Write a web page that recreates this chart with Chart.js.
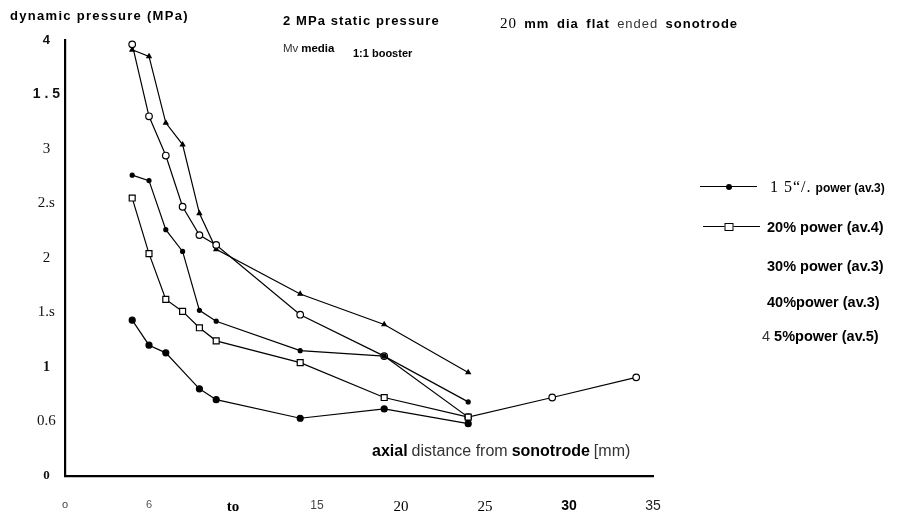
<!DOCTYPE html>
<html>
<head>
<meta charset="utf-8">
<script src="https://cdn.jsdelivr.net/npm/chart.js@4.4.1/dist/chart.umd.min.js"></script>
<style>
html,body{margin:0;padding:0;background:#fff;}
#wrap{position:relative;width:898px;height:517px;overflow:hidden;background:#fff;}
#c{position:absolute;left:0;top:0;}
.t{position:absolute;white-space:nowrap;color:#000;line-height:1;transform:translateY(-50%);}
.sb{font-family:"Liberation Sans","DejaVu Sans",sans-serif;font-weight:bold;}
.sn{font-family:"Liberation Sans","DejaVu Sans",sans-serif;font-weight:normal;color:#333;}
.se{font-family:"Liberation Serif","DejaVu Serif",serif;}
.lg-line{position:absolute;height:0;border-top:1.3px solid #000;}
.lg-dot{position:absolute;width:6px;height:6px;border-radius:50%;background:#000;transform:translate(-50%,-50%);}
.lg-sq{position:absolute;width:7px;height:6px;border:1.2px solid #000;background:#fff;transform:translate(-50%,-50%);}
</style>
</head>
<body>
<div id="wrap">
<canvas id="c" width="898" height="517"></canvas>

<div class="t sb" style="left:10px;top:15px;font-size:13px;letter-spacing:1.3px;">dynamic pressure (MPa)</div>
<div class="t sb" style="left:283px;top:20px;font-size:13px;letter-spacing:1.1px;">2 MPa static pressure</div>
<div class="t" style="left:500px;top:23px;font-size:13px;letter-spacing:1px;word-spacing:3px;"><span class="se" style="font-size:15px;">20</span> <span class="sb">mm dia flat</span> <span class="sn">ended</span> <span class="sb">sonotrode</span></div>
<div class="t" style="left:283px;top:49px;font-size:11.5px;"><span class="sn">Mv</span> <span class="sb">media</span></div>
<div class="t sb" style="left:353px;top:53px;font-size:11px;">1:1 booster</div>
<div class="t" style="left:372px;top:451px;font-size:16px;"><span class="sb">axial</span> <span class="sn">distance from</span> <span class="sb">sonotrode</span> <span class="sn">[mm)</span></div>

<div class="lg-line" style="left:700px;width:57px;top:186px;"></div>
<div class="lg-dot" style="left:729px;top:186.5px;"></div>
<div class="t" style="left:770px;top:187px;"><span class="se" style="font-size:16px;letter-spacing:1px;">1 5“/.</span> <span class="sb" style="font-size:12px;">power (av.3)</span></div>

<div class="lg-line" style="left:703px;width:57px;top:226px;"></div>
<div class="lg-sq" style="left:729px;top:226.5px;"></div>
<div class="t sb" style="left:767px;top:227px;font-size:14.5px;">20% power (av.4)</div>

<div class="t sb" style="left:767px;top:266px;font-size:14.5px;">30% power (av.3)</div>
<div class="t sb" style="left:767px;top:302px;font-size:14.5px;">40%power (av.3)</div>
<div class="t sb" style="left:762px;top:336px;font-size:14.5px;"><span class="sn">4</span> 5%power (av.5)</div>
</div>

<script>
// ---- data ----
const seriesNames = ['1 5“/. power (av.3)', '20% power (av.4)', '30% power (av.3)', '40%power (av.3)', '4 5%power (av.5)'];

const dist15 = [4, 5, 6, 8, 9, 14, 19, 24];
const pres15 = [1.43, 1.20, 1.13, 0.80, 0.70, 0.53, 0.615, 0.48];

const dist20 = [4, 5, 6, 7, 8, 9, 14, 19, 24];
const pres20 = [2.55, 2.04, 1.62, 1.51, 1.36, 1.24, 1.04, 0.72, 0.54];

const dist30 = [4, 5, 6, 7, 8, 9, 14, 19, 24];
const pres30 = [2.76, 2.71, 2.26, 2.06, 1.52, 1.42, 1.15, 1.10, 0.68];

const dist40 = [4, 5, 6, 7, 8, 9, 14, 19, 24, 29, 34];
const pres40 = [3.96, 3.30, 2.94, 2.47, 2.21, 2.12, 1.48, 1.10, 0.54, 0.72, 0.905];

const dist45 = [4, 5, 6, 7, 8, 9, 14, 19, 24];
const pres45 = [3.91, 3.85, 3.24, 3.04, 2.41, 2.08, 1.67, 1.39, 0.95];

const yTickLabels = ['0', '0.6', '1', '1.s', '2', '2.s', '3', '1 . 5', '4'];
const xTickLabels = ['o', '6', 'to', '15', '20', '25', '30', '35'];

// ---- styles ----
const serif = '"Liberation Serif","DejaVu Serif",serif';
const sans = '"Liberation Sans","DejaVu Sans",sans-serif';
const yTickFonts = [
  {family: serif, size: 13, weight: 'bold'},
  {family: serif, size: 15},
  {family: serif, size: 14, weight: 'bold'},
  {family: serif, size: 15},
  {family: serif, size: 15},
  {family: serif, size: 15},
  {family: serif, size: 15},
  {family: sans, size: 14, weight: 'bold'},
  {family: sans, size: 13, weight: 'bold'}
];
const xTickFonts = [
  {family: sans, size: 11},
  {family: sans, size: 11},
  {family: serif, size: 15, weight: 'bold'},
  {family: sans, size: 12},
  {family: serif, size: 15},
  {family: serif, size: 15},
  {family: sans, size: 14, weight: 'bold'},
  {family: sans, size: 14}
];
const xTickColors = ['#444', '#555', '#000', '#444', '#000', '#000', '#000', '#222'];

const pts = (xs, ys) => xs.map((x, i) => ({x: x, y: ys[i]}));

const base = {borderColor: '#000', borderWidth: 1.2, tension: 0, fill: false, pointBorderColor: '#000', pointBorderWidth: 1.2};

new Chart(document.getElementById('c'), {
  type: 'line',
  data: {
    datasets: [
      Object.assign({}, base, {label: seriesNames[0], data: pts(dist15, pres15), pointStyle: 'circle', pointRadius: 3, pointBackgroundColor: '#000'}),
      Object.assign({}, base, {label: seriesNames[1], data: pts(dist20, pres20), pointStyle: 'rect', pointRadius: 4.2, pointBackgroundColor: '#fff'}),
      Object.assign({}, base, {label: seriesNames[2], data: pts(dist30, pres30), pointStyle: 'circle', pointRadius: 2, pointBackgroundColor: '#000'}),
      Object.assign({}, base, {label: seriesNames[3], data: pts(dist40, pres40), pointStyle: 'circle', pointRadius: 3.3, pointBackgroundColor: '#fff'}),
      Object.assign({}, base, {label: seriesNames[4], data: pts(dist45, pres45), pointStyle: 'triangle', pointRadius: 2.5, pointBackgroundColor: '#000'})
    ]
  },
  options: {
    responsive: false,
    animation: false,
    devicePixelRatio: 1,
    layout: {padding: {left: 0, top: 40, right: 245, bottom: 0}},
    plugins: {legend: {display: false}, tooltip: {enabled: false}, title: {display: false}},
    elements: {line: {borderCapStyle: 'round'}},
    scales: {
      x: {
        type: 'linear', min: 0, max: 35,
        afterFit: s => { s.height = 41; },
        afterBuildTicks: s => { s.ticks = xTickLabels.map((_, i) => ({value: i * 5})); },
        grid: {display: false, drawTicks: false},
        border: {display: true, color: '#000', width: 2.2},
        ticks: {
          callback: (v, i) => xTickLabels[i],
          font: ctx => xTickFonts[ctx.index] || xTickFonts[0],
          color: ctx => xTickColors[ctx.index] || '#000',
          padding: 22, maxRotation: 0, autoSkip: false
        }
      },
      y: {
        type: 'linear', min: 0, max: 4,
        afterFit: s => { s.width = 65; },
        afterBuildTicks: s => { s.ticks = yTickLabels.map((_, i) => ({value: i * 0.5})); },
        grid: {display: false, drawTicks: false},
        border: {display: true, color: '#000', width: 2.2},
        ticks: {
          callback: (v, i) => yTickLabels[i],
          font: ctx => yTickFonts[ctx.index] || yTickFonts[0],
          color: '#111',
          crossAlign: 'center',
          padding: 5, autoSkip: false
        }
      }
    }
  }
});
</script>
</body>
</html>
